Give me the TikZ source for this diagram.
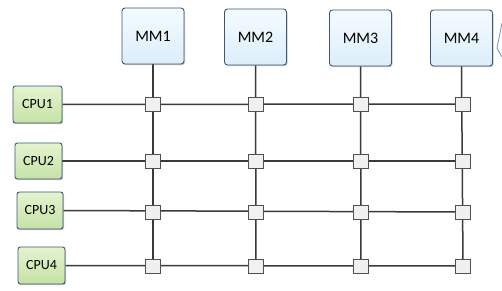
\documentclass[tikz,border=0pt]{standalone}
\usepackage{fontspec}
\setmainfont{Carlito}
\usetikzlibrary{shadows,backgrounds}
\definecolor{mmborder}{HTML}{3E5676}
\definecolor{cpuborder}{HTML}{3E5676}
\definecolor{mmtop}{HTML}{F4FBFF}
\definecolor{mmbot}{HTML}{DCEEFA}
\definecolor{cputop}{HTML}{E4F3D0}
\definecolor{cpubot}{HTML}{C6E2A6}
\definecolor{swfill}{HTML}{F0F0F0}
\definecolor{swborder}{HTML}{505050}
\definecolor{wire}{HTML}{3A3A3A}
\definecolor{callout}{HTML}{6E8EC4}
\tikzset{
  x=1pt, y=-1pt,
  mmbox/.style={draw=mmborder, line width=0.9pt, rounded corners=3pt,
    top color=mmtop, bottom color=mmbot, minimum width=62pt, minimum height=56pt,
    inner sep=0pt, font=\fontsize{16}{18}\selectfont,
    drop shadow={shadow xshift=1pt, shadow yshift=-1.2pt, opacity=0.35, fill=black!60}},
  cpubox/.style={draw=cpuborder, line width=0.9pt, rounded corners=2.5pt,
    top color=cputop, bottom color=cpubot, minimum width=47pt, minimum height=36pt,
    inner sep=0pt, font=\fontsize{14}{16}\selectfont,
    drop shadow={shadow xshift=1pt, shadow yshift=-1.2pt, opacity=0.35, fill=black!60}},
  swbox/.style={draw=swborder, line width=0.9pt, fill=swfill,
    minimum width=15pt, minimum height=14pt, inner sep=0pt,
    drop shadow={shadow xshift=0.8pt, shadow yshift=-0.8pt, opacity=0.3, fill=black!60}},
  wireline/.style={draw=wire, line width=1.5pt},
}
\begin{document}
\begin{tikzpicture}
\useasboundingbox (0,0) rectangle (502,291);
% memory modules
\node[mmbox] (mm1) at (153,36) {MM1};
\node[mmbox] (mm2) at (255.5,37) {MM2};
\node[mmbox] (mm3) at (360.5,38) {MM3};
\node[mmbox] (mm4) at (461.5,38) {MM4};
% CPUs
\node[cpubox, minimum width=49pt, minimum height=37pt] (cpu1) at (37.5,104.5) {CPU1};
\node[cpubox] (cpu2) at (38.5,161) {CPU2};
\node[cpubox, minimum width=46pt, minimum height=37pt] (cpu3) at (40,210.5) {CPU3};
\node[cpubox, minimum height=37pt] (cpu4) at (41.5,265.5) {CPU4};
% switches
\foreach \r/\y in {1/104,2/161,3/212,4/266}{
  \foreach \c/\x in {1/153,2/256,3/361,4/463}{
    \node[swbox] (s-\r-\c) at (\x,\y) {};
  }
}
\begin{scope}[on background layer]
  \foreach \c in {1,2,3,4}{
    \draw[wireline] (mm\c.south) -- (s-4-\c.center);
  }
  \foreach \r in {1,2,3,4}{
    \draw[wireline] (cpu\r.east) -- (s-\r-4.center);
  }
\end{scope}
% partial callout at right edge
\coordinate (ca) at (502,23);
\coordinate (cb) at (497,48);
\coordinate (cc) at (502,57);
\draw[callout, line width=0.8pt] (ca) -- (cb) -- (cc);
\end{tikzpicture}
\end{document}
